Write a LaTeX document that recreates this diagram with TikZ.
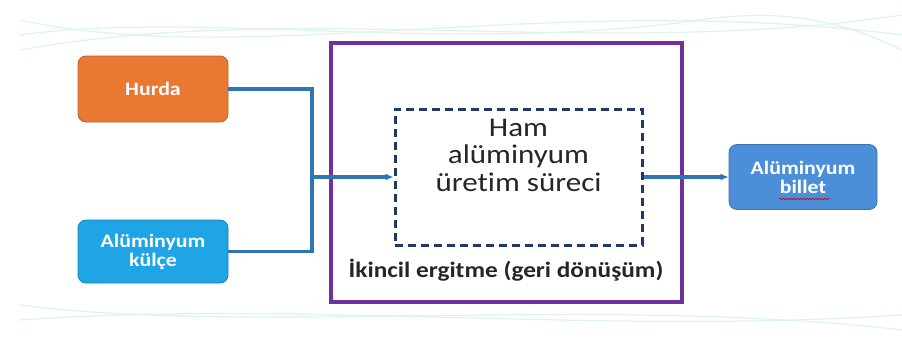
\documentclass[tikz,border=0pt]{standalone}
\usepackage{fontspec}
\setmainfont{Carlito}[FakeStretch=1.15, Ligatures=NoCommon]
\usetikzlibrary{arrows.meta,decorations.pathmorphing}
\definecolor{horange}{HTML}{E97832}
\definecolor{kblue}{HTML}{1FA5E6}
\definecolor{bblue}{HTML}{4B8FD9}
\definecolor{pur}{HTML}{7030A0}
\definecolor{navy}{HTML}{203864}
\definecolor{conn}{HTML}{2E75B6}
\definecolor{bgwave}{HTML}{DDF3EE}
\definecolor{txt}{HTML}{262626}
\tikzset{
  srcbox/.style={rounded corners=8pt, draw=#1!80!black, line width=0.8pt, fill=#1, text=white,
    font=\bfseries\fontsize{19}{20}\selectfont, align=center, inner sep=0pt},
  conline/.style={draw=conn, line width=3.2pt},
  arr/.style={-{Latex[length=8pt,width=7pt]}},
  wave/.style={draw=bgwave, line width=1.2pt}
}
\begin{document}
\begin{tikzpicture}[x=1pt,y=-1pt]
\useasboundingbox (0,0) rectangle (902,340);
% faint background waves
\draw[wave] (20,20) .. controls (250,70) and (550,-10) .. (902,35);
\draw[wave] (20,50) .. controls (300,0) and (600,60) .. (902,15);
\draw[wave] (20,35) .. controls (200,10) and (450,55) .. (700,20) .. controls (800,5) and (860,30) .. (902,50);
\draw[wave] (20,320) .. controls (300,300) and (600,335) .. (902,315);
\draw[wave] (20,305) .. controls (250,335) and (600,295) .. (902,330);
% boxes
\node[srcbox=horange, minimum width=150pt, minimum height=66pt] (hurda) at (153,89) {Hurda};
\node[srcbox=kblue, minimum width=150pt, minimum height=63pt] (kulce) at (153,251.5) {Alüminyum\\[-1pt]külçe};
\node[draw=pur, line width=3.4pt, fill=white, minimum width=351pt, minimum height=259pt, inner sep=0pt] (outer) at (506.5,172.5) {};
\node[draw=navy, dashed, dash pattern=on 8pt off 5pt, line width=3pt, minimum width=247pt, minimum height=136pt, inner sep=0pt] (dash) at (518.5,177) {};
\node[align=center, text=txt, font=\fontsize{27}{27.5}\selectfont, inner sep=0pt] (ham) at (518.5,155) {Ham\\alüminyum\\üretim süreci};
\node[text=txt, font=\bfseries\fontsize{22}{24}\selectfont, inner sep=0pt] (label) at (506,270) {İkincil ergitme (geri dönüşüm)};
\node[srcbox=bblue, minimum width=148pt, minimum height=65pt] (billet) at (803,177) {Alüminyum\\[-1pt]billet};
% red spell-check underline
\coordinate (ul1) at (779,199);
\coordinate (ul2) at (830,199);
\draw[red!80!black, line width=0.6pt, decorate, decoration={snake, amplitude=0.8pt, segment length=3pt}] (ul1) -- (ul2);
% connectors
\coordinate (j) at (312,177);
\draw[conline] (hurda.east) -| (j);
\draw[conline] (kulce.east) -| (j);
\draw[conline, arr] (j) -- (dash.west);
\draw[conline, arr] (dash.east) -- (billet.west);
\end{tikzpicture}
\end{document}
